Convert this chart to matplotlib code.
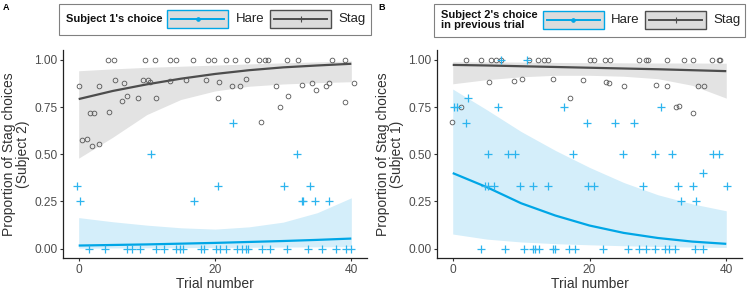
import numpy as np
import matplotlib
matplotlib.use("Agg")
import matplotlib.pyplot as plt
from matplotlib.patches import Rectangle

plt.rcParams["font.family"] = ["Liberation Sans", "DejaVu Sans"]

BLUE = "#00a6e6"
BLUE_PT = "#2cb4ee"
BLUE_FILL = "#d4eefa"
GRAY_LINE = "#4d4d4d"
GRAY_PT = "#555555"
GRAY_FILL = "#e3e3e3"

# ---------------------------------------------------------------- data
fit_x = [0, 5, 10, 15, 20, 25, 30, 35, 40]

# Panel A: Subject 2's stag proportion by Subject 1's choice
a_stag_x = [4.3, 5.2, 9.8, 11.2, 13.4, 14.3, 16.7, 18.9, 19.9, 21.6, 22.9, 24.7, 26.4, 27.3,
            27.8, 30.5, 32.2, 37.2, 39.1,
            0.1, 3.0, 5.3, 6.7, 9.4, 10.2, 10.4, 13.4, 15.7, 18.7, 20.6, 22.5, 23.7, 24.6,
            28.9, 32.8, 34.3, 34.8, 36.3, 36.7, 40.4,
            6.3, 7.1, 8.7, 11.4, 20.4, 30.7, 29.6, 39.0, 26.7,
            1.6, 2.2, 4.5, 0.5, 1.2, 1.9, 3.0]
a_stag_y = [1.0] * 19 + \
           [0.862, 0.862, 0.894, 0.876, 0.894, 0.894, 0.88, 0.889, 0.892, 0.894, 0.88, 0.86,
            0.86, 0.896, 0.86, 0.864, 0.878, 0.839, 0.86, 0.878, 0.878,
            0.783, 0.806, 0.80, 0.80, 0.80, 0.807, 0.751, 0.779, 0.673,
            0.717, 0.717, 0.726, 0.574, 0.58, 0.546, 0.556]
a_hare_x = [1.5, 3.8, 7.1, 7.8, 9.0, 11.3, 12.5, 14.3, 14.8, 15.3, 17.9, 18.4, 20.1, 20.8,
            21.6, 23.3, 24.0, 24.6, 24.9, 26.9, 28.0, 30.5, 33.7, 35.7, 37.8, 39.2, 40.0,
            -0.25, 0.2, 10.6, 16.9, 20.4, 22.7, 30.1, 32.0, 32.8, 32.9, 34.0, 34.6, 36.7]
a_hare_y = [0.0] * 27 + \
           [0.333, 0.25, 0.5, 0.25, 0.333, 0.667, 0.333, 0.5, 0.25, 0.25, 0.333, 0.25, 0.25]
a_stag_fit = [0.792, 0.835, 0.87, 0.90, 0.925, 0.945, 0.96, 0.97, 0.979]
a_stag_hi = [0.942, 0.952, 0.96, 0.966, 0.972, 0.978, 0.984, 0.989, 0.994]
a_stag_lo = [0.479, 0.59, 0.71, 0.79, 0.835, 0.86, 0.872, 0.879, 0.884]
a_hare_fit = [0.016, 0.019, 0.022, 0.026, 0.03, 0.035, 0.04, 0.046, 0.053]
a_hare_hi = [0.164, 0.142, 0.124, 0.11, 0.103, 0.115, 0.14, 0.19, 0.269]
a_hare_lo = [0.002, 0.003, 0.004, 0.005, 0.006, 0.007, 0.008, 0.009, 0.010]

# Panel B: Subject 1's stag proportion by Subject 2's previous choice
b_stag_x = [1.9, 4.1, 5.6, 6.4, 7.0, 11.1, 12.5, 13.4, 13.9, 20.1, 20.7, 22.3, 23.0, 27.3,
            28.3, 28.6, 31.3, 33.8, 35.1, 37.9, 38.9, 39.1,
            5.3, 8.9, 10.2, 14.7, 19.0, 22.4, 22.9, 25.1, 29.7, 31.4, 35.8, 36.8, 17.1, 1.2,
            -0.1, 32.7, 33.1, 35.1]
b_stag_y = [1.0] * 22 + \
           [0.882, 0.889, 0.896, 0.898, 0.891, 0.882, 0.878, 0.862, 0.866, 0.862, 0.862,
            0.86, 0.80, 0.75, 0.67, 0.749, 0.753, 0.716]
b_hare_x = [7.1, 10.8, 2.3, 0.2, 0.6, 6.6, 16.2, 30.4, 2.0, 19.7, 23.8, 26.5,
            5.1, 8.1, 9.1, 17.6, 24.9, 29.6, 32.0, 38.1, 39.0, 36.6,
            4.7, 5.1, 6.0, 9.9, 11.7, 14.0, 19.8, 20.7, 27.8, 33.0, 35.1, 40.1, 33.4, 35.6,
            4.1, 7.7, 10.4, 11.8, 12.0, 12.6, 14.6, 15.0, 17.0, 17.9, 22.0, 25.7, 27.3,
            28.3, 29.6, 31.0, 31.6, 32.5, 35.4, 36.6]
b_hare_y = [1.0, 1.0, 0.8, 0.75, 0.75, 0.75, 0.75, 0.75, 0.667, 0.667, 0.667, 0.667] + \
           [0.5] * 9 + [0.4] + [0.333] * 12 + [0.25, 0.25] + [0.0] * 20
b_stag_fit = [0.973, 0.97, 0.966, 0.962, 0.958, 0.954, 0.95, 0.945, 0.94]
b_stag_hi = [0.99, 0.989, 0.988, 0.986, 0.985, 0.984, 0.983, 0.983, 0.982]
b_stag_lo = [0.873, 0.895, 0.91, 0.918, 0.918, 0.913, 0.90, 0.865, 0.797]
b_hare_fit = [0.40, 0.325, 0.24, 0.175, 0.122, 0.083, 0.056, 0.037, 0.025]
b_hare_hi = [0.845, 0.735, 0.62, 0.52, 0.43, 0.35, 0.285, 0.237, 0.20]
b_hare_lo = [0.077, 0.05, 0.035, 0.026, 0.02, 0.015, 0.011, 0.008, 0.006]

yticks = [0.0, 0.25, 0.5, 0.75, 1.0]
yticklabels = ["0.00", "0.25", "0.50", "0.75", "1.00"]
xticks = [0, 20, 40]

# ---------------------------------------------------------------- render
W, H = 748, 291
fig = plt.figure(figsize=(W / 100, H / 100), dpi=100)


def panel(rect, stag, hare, ylabel):
    ax = fig.add_axes(rect)
    sx, sy, sfit, shi, slo = stag
    hx, hy, hfit, hhi, hlo = hare
    ax.fill_between(fit_x, slo, shi, color=GRAY_FILL, lw=0, zorder=1)
    ax.fill_between(fit_x, hlo, hhi, color=BLUE_FILL, lw=0, zorder=1)
    ax.plot(fit_x, sfit, color=GRAY_LINE, lw=1.6, zorder=2, solid_capstyle="butt")
    ax.plot(fit_x, hfit, color=BLUE, lw=1.6, zorder=2, solid_capstyle="butt")
    ax.plot(sx, sy, "o", ms=3.4, mfc="none", mec=GRAY_PT, mew=0.6, zorder=3)
    ax.plot(hx, hy, "+", ms=5.5, color=BLUE_PT, mew=0.9, zorder=3)
    ax.set_xlim(-2.3, 42.3)
    ax.set_ylim(-0.05, 1.052)
    ax.set_xticks(xticks)
    ax.set_yticks(yticks)
    ax.set_yticklabels(yticklabels)
    for s in ("top", "right"):
        ax.spines[s].set_visible(False)
    for s in ("left", "bottom"):
        ax.spines[s].set_linewidth(0.9)
        ax.spines[s].set_color("#222222")
    ax.tick_params(length=2.5, width=0.8, color="#333333", labelsize=8.6,
                   labelcolor="#4d4d4d", pad=1.5)
    ax.set_xlabel("Trial number", fontsize=10, color="#333333", labelpad=1)
    ax.set_ylabel(ylabel, fontsize=10, color="#333333", labelpad=3, linespacing=1.0)
    return ax


panel([63 / W, 1 - 258 / H, 304 / W, 208 / H],
      (a_stag_x, a_stag_y, a_stag_fit, a_stag_hi, a_stag_lo),
      (a_hare_x, a_hare_y, a_hare_fit, a_hare_hi, a_hare_lo),
      "Proportion of Stag choices\n(Subject 2)")
panel([437 / W, 1 - 258 / H, 305 / W, 208 / H],
      (b_stag_x, b_stag_y, b_stag_fit, b_stag_hi, b_stag_lo),
      (b_hare_x, b_hare_y, b_hare_fit, b_hare_hi, b_hare_lo),
      "Proportion of Stag choices\n(Subject 1)")

# legends and panel letters, drawn in pixel space on an overlay
ov = fig.add_axes([0, 0, 1, 1], zorder=5)
ov.set_xlim(0, W); ov.set_ylim(H, 0); ov.axis("off")


def legend(x0, w, h, title, hare_key, stag_key):
    ov.add_patch(Rectangle((x0, 3.5), w, h, fc="white", ec="#808080", lw=0.8))
    ov.text(x0 + 7, 3.5 + h / 2, title, fontsize=8, weight="bold", va="center",
            ha="left", linespacing=1.0, color="#111111")
    for kx, ec, marker, label in ((hare_key, BLUE, "o", "Hare"),
                                  (stag_key, GRAY_LINE, "+", "Stag")):
        ky = 3.5 + h / 2
        ov.add_patch(Rectangle((kx, ky - 9), 61, 18, fc="#dcdcdc", ec=ec, lw=1.0))
        ov.plot([kx + 4, kx + 57], [ky, ky], color=ec, lw=1.4)
        ov.plot([kx + 30.5], [ky], marker, color=ec, ms=2.5 if marker == "o" else 5,
                mew=0.8)
        ov.text(kx + 68, ky, label, fontsize=9.5, va="center", ha="left", color="#222222")


legend(59.5, 312, 31, "Subject 1's choice", 167.5, 270.5)
legend(434.5, 311, 33, "Subject 2's choice\nin previous trial", 543.0, 645.5)

ov.text(3, 7, "A", fontsize=6.5, weight="bold", va="center", ha="left")
ov.text(378, 7, "B", fontsize=6.5, weight="bold", va="center", ha="left")

fig.savefig("out.png", dpi=100)
